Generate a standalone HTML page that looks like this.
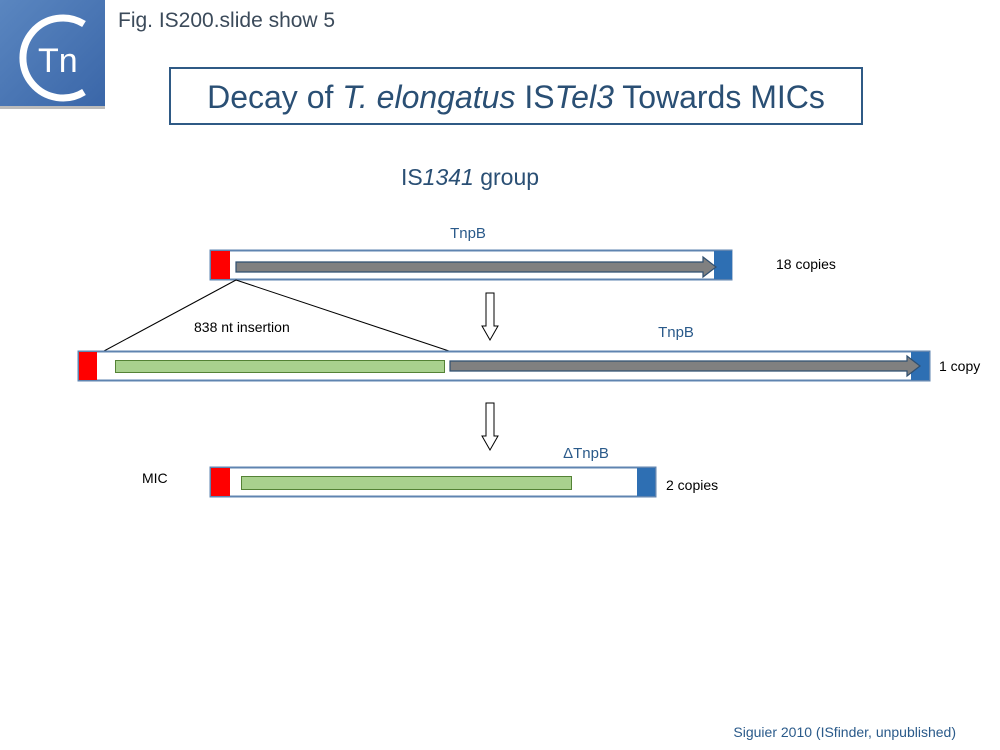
<!DOCTYPE html>
<html><head><meta charset="utf-8"><style>
html,body{margin:0;padding:0;background:#fff;}
svg{display:block;font-family:"Liberation Sans",sans-serif;}
</style></head><body>
<svg width="1000" height="750" viewBox="0 0 1000 750" xmlns="http://www.w3.org/2000/svg">
<defs>
<linearGradient id="lg" x1="0" y1="0" x2="1" y2="1"><stop offset="0" stop-color="#5a86c0"/><stop offset="1" stop-color="#3a66a8"/></linearGradient>
</defs>
<rect x="0" y="0" width="105" height="108" fill="url(#lg)"/>
<rect x="0" y="106" width="105" height="3" fill="#bbb"/>
<path d="M84 24 A40 40 0 1 0 84 92" fill="none" stroke="#fff" stroke-width="7"/>
<text x="38" y="72" font-size="34" fill="#fff">Tn</text>
<text x="118" y="27" font-size="21" fill="#3b4a5a">Fig. IS200.slide show 5</text>
<rect x="170" y="68" width="692" height="56" fill="#fff" stroke="#2f5a85" stroke-width="2"/>
<text x="516" y="108" font-size="32" fill="#2a4f74" text-anchor="middle">Decay of <tspan font-style="italic">T. elongatus</tspan> IS<tspan font-style="italic">Tel3</tspan> Towards MICs</text>
<text x="470" y="185" font-size="23" fill="#2a4f74" text-anchor="middle">IS<tspan font-style="italic">1341</tspan> group</text>
<text x="468" y="238" font-size="15" fill="#2a5a8a" text-anchor="middle">TnpB</text>
<rect x="210.5" y="250.5" width="521" height="29" fill="#fff" stroke="#5f84b0" stroke-width="2"/>
<rect x="211" y="251" width="19" height="28" fill="#ff0000"/>
<rect x="714" y="251" width="18" height="28" fill="#2e6fb3"/>
<polygon points="236,262 703,262 703,257 716,267 703,277 703,272 236,272" fill="#808080" stroke="#2f4f70" stroke-width="1.2"/>
<text x="776" y="269" font-size="14" fill="#000">18 copies</text>
<line x1="236" y1="280" x2="104" y2="351" stroke="#000" stroke-width="1"/>
<line x1="236" y1="280" x2="449" y2="351" stroke="#000" stroke-width="1"/>
<text x="194" y="332" font-size="14" fill="#000">838 nt insertion</text>
<polygon points="486,293 494,293 494,326 498,326 490,340 482,326 486,326" fill="#fff" stroke="#000" stroke-width="1"/>
<text x="676" y="337" font-size="15" fill="#2a5a8a" text-anchor="middle">TnpB</text>
<rect x="78.5" y="351.5" width="851" height="29" fill="#fff" stroke="#5f84b0" stroke-width="2"/>
<rect x="79" y="352" width="18" height="28" fill="#ff0000"/>
<rect x="911" y="352" width="18" height="28" fill="#2e6fb3"/>
<rect x="115.5" y="360.5" width="329" height="12" fill="#a9d18e" stroke="#548235" stroke-width="1"/>
<polygon points="450,361 907,361 907,356 920,366 907,376 907,371 450,371" fill="#808080" stroke="#2f4f70" stroke-width="1.2"/>
<text x="939" y="371" font-size="14" fill="#000">1 copy</text>
<polygon points="486,403 494,403 494,436 498,436 490,450 482,436 486,436" fill="#fff" stroke="#000" stroke-width="1"/>
<text x="586" y="458" font-size="15" fill="#2a5a8a" text-anchor="middle">ΔTnpB</text>
<text x="142" y="483" font-size="14" fill="#000">MIC</text>
<rect x="210.5" y="467.5" width="445" height="29" fill="#fff" stroke="#5f84b0" stroke-width="2"/>
<rect x="211" y="468" width="19" height="28" fill="#ff0000"/>
<rect x="637" y="468" width="18" height="28" fill="#2e6fb3"/>
<rect x="241.5" y="476.5" width="330" height="13" fill="#a9d18e" stroke="#548235" stroke-width="1"/>
<text x="666" y="490" font-size="14" fill="#000">2 copies</text>
<text x="956" y="737" font-size="14" fill="#2a5a8a" text-anchor="end">Siguier 2010 (ISfinder, unpublished)</text>
</svg>
</body></html>
